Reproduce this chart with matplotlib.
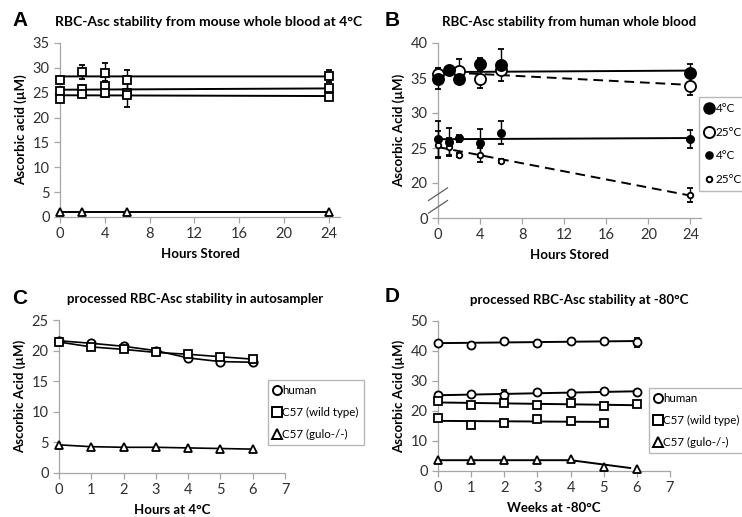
import matplotlib
matplotlib.use("Agg")
import matplotlib.pyplot as plt
from matplotlib.lines import Line2D
import numpy as np

plt.rcParams['font.family'] = ['Lato', 'DejaVu Sans']
plt.rcParams['font.size'] = 10

# --- A: mouse whole blood, 4 C (hours stored) ---
a_hours = [0, 2, 4, 6, 24]
a_wt1 = [27.6, 29.1, 28.9, 27.5, 28.3]
a_wt1_err = [0.5, 1.4, 2.0, 2.1, 1.2]
a_wt2 = [25.4, 25.7, 26.4, 25.0, 25.9]
a_wt2_err = [0.4, 0.8, 1.0, 0.8, 0.5]
a_wt3 = [23.8, 24.7, 24.9, 24.6, 24.2]
a_wt3_err = [0.5, 0.6, 0.7, 2.5, 0.5]
a_gulo_hours = [0, 2, 6, 24]
a_gulo = [1.0, 1.0, 1.0, 1.0]

# --- B: human whole blood ---
b_hours = [0, 1, 2, 4, 6, 24]
b_hi_4c = [34.9, 36.1, 34.8, 37.0, 36.9, 35.7]
b_hi_4c_err = [1.5, 0.4, 0.4, 0.9, 2.3, 1.3]
b_hi_25c_hours = [0, 2, 4, 6, 24]
b_hi_25c = [35.6, 36.0, 34.9, 36.2, 33.9]
b_hi_25c_err = [0.8, 1.7, 1.3, 0.8, 1.3]
b_lo_4c = [26.3, 25.9, 26.4, 25.7, 27.2, 26.3]
b_lo_4c_err = [2.6, 2.0, 0.5, 2.0, 1.6, 1.3]
b_lo_25c = [25.5, 25.2, 24.0, 24.0, 23.1, 18.3]
b_lo_25c_err = [1.9, 1.2, 0.3, 1.0, 0.3, 1.0]
b_yticks = [0, 20, 25, 30, 35, 40]

# --- C: processed samples in autosampler ---
c_hours = [0, 1, 2, 3, 4, 5, 6]
c_human = [21.6, 21.2, 20.7, 20.0, 18.8, 18.2, 18.1]
c_wt = [21.4, 20.6, 20.2, 19.7, 19.4, 19.0, 18.6]
c_gulo = [4.6, 4.3, 4.2, 4.2, 4.1, 4.0, 3.9]

# --- D: processed samples at -80 C ---
d_weeks = [0, 1, 2, 3, 4, 5, 6]
d_human1 = [42.8, 42.0, 43.5, 42.7, 43.4, 43.4, 43.0]
d_human1_err = [0.3, 0.5, 0.5, 0.5, 0.4, 0.4, 1.5]
d_human2 = [25.2, 25.6, 25.4, 26.2, 26.0, 26.6, 26.4]
d_human2_err = [0.6, 0.4, 1.5, 0.3, 0.3, 0.3, 0.3]
d_wt1 = [23.5, 22.0, 22.6, 22.0, 22.6, 21.8, 22.2]
d_wt1_err = [0.4, 0.5, 0.8, 1.0, 0.6, 1.0, 0.7]
d_wt2_weeks = [0, 1, 2, 3, 4, 5]
d_wt2 = [17.6, 15.5, 16.0, 17.2, 16.8, 16.1]
d_wt2_err = [0.4, 0.9, 0.5, 0.4, 0.4, 0.3]
d_gulo = [3.6, 3.6, 3.6, 3.6, 3.9, 1.3, 0.6]
d_gulo_line_x = [0, 4, 5.8]
d_gulo_line_y = [3.6, 3.6, 1.0]

GRAY = '#a6a6a6'


def trend(ax, x, y, ls='-', x0=None, x1=None):
    # linear trendline across the measured time range
    k, b = np.polyfit(x, y, 1)
    x0 = min(x) if x0 is None else x0
    x1 = max(x) if x1 is None else x1
    xs = np.array([x0, x1])
    ax.plot(xs, k * xs + b, color='black', lw=1.4, ls=ls, dashes=(5, 3) if ls == '--' else (None, None),
            zorder=2, clip_on=False)


def pts(ax, x, y, err=None, marker='s', ms=5.5, filled=False):
    cont = ax.errorbar(x, y, yerr=err, fmt=marker, ms=ms, mfc='black' if filled else 'white',
                       mec='black', mew=1.3, ecolor='black', elinewidth=1.0, capsize=2.2,
                       capthick=1.0, zorder=3)
    for art in cont.get_children():
        art.set_clip_on(False)


def style(ax, xlim, xticks, ylim, yticks, xlabel, ylabel):
    ax.set_xlim(*xlim)
    ax.set_ylim(*ylim)
    ax.set_xticks(xticks)
    ax.set_yticks(yticks)
    for s in ['top', 'right']:
        ax.spines[s].set_visible(False)
    for s in ['left', 'bottom']:
        ax.spines[s].set_color(GRAY)
        ax.spines[s].set_linewidth(0.9)
    ax.tick_params(axis='both', colors=GRAY, labelcolor='#303030', length=4, width=0.9,
                   labelsize=10.5, direction='out')
    ax.set_xlabel(xlabel, fontsize=9.5, fontweight='bold', labelpad=5)
    ax.set_ylabel(ylabel, fontsize=9.5, fontweight='bold', labelpad=4)


fig = plt.figure(figsize=(7.42, 5.17), dpi=100)
W, H = 742.0, 517.0


def box(l, r, t, b):
    return [l / W, 1 - b / H, (r - l) / W, (b - t) / H]


axA = fig.add_axes(box(60, 340, 43, 217))
axB = fig.add_axes(box(438, 701, 43, 218))
axC = fig.add_axes(box(59, 285, 320, 473))
axD = fig.add_axes(box(438, 670, 321, 471))

# A
for y, e in [(a_wt1, a_wt1_err), (a_wt2, a_wt2_err), (a_wt3, a_wt3_err)]:
    trend(axA, a_hours, y)
    pts(axA, a_hours, y, e, 's')
trend(axA, a_gulo_hours, a_gulo)
pts(axA, a_gulo_hours, a_gulo, None, '^', 6)
style(axA, (0, 25), range(0, 25, 4), (0, 35), range(0, 36, 5), 'Hours Stored', 'Ascorbic acid (\u00b5M)')
axA.set_title('RBC-Asc stability from mouse whole blood at 4\u00b0C', fontsize=10, fontweight='bold',
              pad=12, x=0.53)

# B (broken axis: 0 is drawn one step below 20)
trend(axB, b_hours, b_hi_4c, '-', 0, 24)
trend(axB, b_hi_25c_hours, b_hi_25c, '--', 0, 24)
trend(axB, b_hours, b_lo_4c, '-', 0, 24)
trend(axB, b_hours, b_lo_25c, '--', 0, 24)
pts(axB, b_hi_25c_hours, b_hi_25c, b_hi_25c_err, 'o', 8, False)
pts(axB, b_hours, b_hi_4c, b_hi_4c_err, 'o', 8, True)
pts(axB, b_hours, b_lo_25c, b_lo_25c_err, 'o', 4, False)
pts(axB, b_hours, b_lo_4c, b_lo_4c_err, 'o', 5.2, True)
style(axB, (0, 25), range(0, 25, 4), (15, 40), [15, 20, 25, 30, 35, 40], 'Hours Stored', 'Ascorbic Acid (\u00b5M)')
axB.set_yticklabels([str(v) for v in b_yticks])
axB.set_title('RBC-Asc stability from human whole blood', fontsize=9.5, fontweight='bold', pad=12)
for dy in (-0.9, 0.9):
    axB.plot([-0.9, 0.9], [17.5 + dy - 0.9, 17.5 + dy + 0.9], color='#606060', lw=0.9, clip_on=False, zorder=5)
axB.legend([Line2D([], [], ls='', marker='o', ms=8, mfc='black', mec='black'),
            Line2D([], [], ls='', marker='o', ms=8, mfc='white', mec='black', mew=1.4),
            Line2D([], [], ls='', marker='o', ms=5.2, mfc='black', mec='black'),
            Line2D([], [], ls='', marker='o', ms=4, mfc='white', mec='black', mew=1.4)],
           ['4\u00b0C', '25\u00b0C', '4\u00b0C', '25\u00b0C'],
           loc='upper left', bbox_to_anchor=(699 / W, 1 - 97 / H), bbox_transform=fig.transFigure,
           fontsize=8.5, frameon=True, fancybox=False, edgecolor=GRAY, handlelength=0.6,
           handletextpad=0.25, labelspacing=1.05, borderpad=0.55, borderaxespad=0)

# C
for y, m in [(c_human, 'o'), (c_wt, 's'), (c_gulo, '^')]:
    axC.plot(c_hours, y, color='black', lw=1.2, zorder=2, clip_on=False)
    pts(axC, c_hours, y, None, m, 6)
style(axC, (0, 7), range(0, 8), (0, 25), range(0, 26, 5), 'Hours at 4\u00b0C', 'Ascorbic Acid (\u00b5M)')
axC.set_title('processed RBC-Asc stability in autosampler', fontsize=9.5, fontweight='bold', pad=12, x=0.6)

# D
for x, y, e, m in [(d_weeks, d_human1, d_human1_err, 'o'), (d_weeks, d_human2, d_human2_err, 'o'),
                   (d_weeks, d_wt1, d_wt1_err, 's'), (d_wt2_weeks, d_wt2, d_wt2_err, 's')]:
    trend(axD, x, y)
    pts(axD, x, y, e, m, 5.8)
axD.plot(d_gulo_line_x, d_gulo_line_y, color='black', lw=1.4, zorder=2)
pts(axD, d_weeks, d_gulo, None, '^', 6)
style(axD, (0, 7), range(0, 8), (0, 50), range(0, 51, 10), 'Weeks at -80\u00b0C', 'Ascorbic Acid (\u00b5M)')
axD.set_title('processed RBC-Asc stability at -80\u00b0C', fontsize=9.5, fontweight='bold', pad=12, x=0.61)

leg_handles = [Line2D([], [], ls='', marker=m, ms=6.5, mfc='white', mec='black', mew=1.4) for m in ['o', 's', '^']]
leg_labels = ['human', 'C57 (wild type)', 'C57 (gulo-/-)']
for x0, y0 in [(268, 380), (649, 388)]:
    fig.legend(leg_handles, leg_labels, loc='upper left', bbox_to_anchor=(x0 / W, 1 - y0 / H),
               fontsize=8.3, frameon=True, fancybox=False, edgecolor=GRAY, handlelength=0.6,
               handletextpad=0.2, labelspacing=0.95, borderpad=0.45, borderaxespad=0)

for txt, x, y in [('A', 12, 20), ('B', 385, 20), ('C', 12, 299), ('D', 385, 296)]:
    fig.text(x / W, 1 - y / H, txt, fontsize=15, fontweight='bold', family='Liberation Sans', va='center')

fig.savefig('out.png', dpi=100)
